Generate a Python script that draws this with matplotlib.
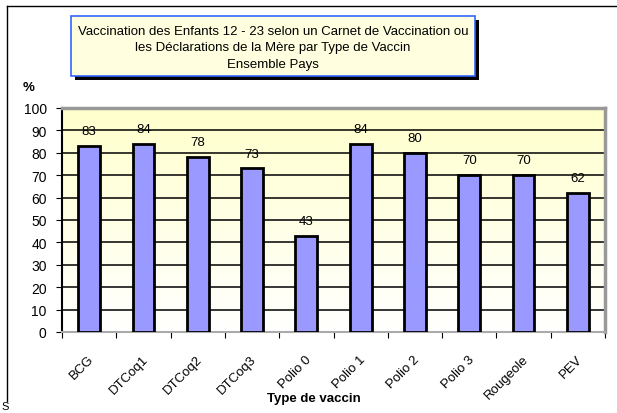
import matplotlib.pyplot as plt
import numpy as np
from matplotlib.patches import Rectangle
from matplotlib.lines import Line2D
from matplotlib.transforms import ScaledTranslation

vaccins = ['BCG', 'DTCoq1', 'DTCoq2', 'DTCoq3', 'Polio 0', 'Polio 1',
           'Polio 2', 'Polio 3', 'Rougeole', 'PEV']
pourcent = [83, 84, 78, 73, 43, 84, 80, 70, 70, 62]

titre = ('Vaccination des Enfants 12 - 23 selon un Carnet de Vaccination ou\n'
         'les Déclarations de la Mère par Type de Vaccin\nEnsemble Pays')

plt.rcParams['font.family'] = ['Liberation Sans', 'DejaVu Sans']

W, H = 617, 414
fig = plt.figure(figsize=(W / 100, H / 100), dpi=100)


def fx(px):
    return px / W


def fy(py):
    return 1 - py / H


# outer frame (cut off on right and bottom)
fig.add_artist(Line2D([fx(7), 1], [fy(7), fy(7)], color='black', lw=1))
fig.add_artist(Line2D([fx(7), fx(7)], [fy(7), fy(402)], color='black', lw=1))

ax = fig.add_axes([fx(62), fy(333), fx(605) - fx(62), fy(109) - fy(333)])

x = np.arange(len(vaccins))
ax.set_xlim(-0.5, len(vaccins) - 0.5)
ax.set_ylim(0, 100)

# gradient background: pale yellow at top -> white at bottom
grad = np.linspace(0, 1, 256).reshape(-1, 1)
top = np.array([1.0, 1.0, 0.80])
bot = np.array([1.0, 1.0, 1.0])
img = bot + (top - bot) * grad[:, :, None] * np.ones((1, 1, 3))
ax.imshow(img, extent=[-0.5, len(vaccins) - 0.5, 0, 100], origin='lower',
          aspect='auto', zorder=0)

ax.set_yticks(range(0, 101, 10))
ax.grid(axis='y', color='black', lw=1.1, zorder=1)
ax.set_axisbelow(True)

ax.bar(x, pourcent, width=0.4, color='#9999FF', edgecolor='black',
       linewidth=2, zorder=3)

for i, v in enumerate(pourcent):
    ax.text(i, v + 4, str(v), ha='center', va='bottom', fontsize=9.5, zorder=4)

ax.set_xticks(np.arange(-0.5, len(vaccins), 1), minor=False)
ax.set_xticklabels([])
ax.set_xticks(x, minor=True)
ax.set_xticklabels(vaccins, minor=True, rotation=45, ha='right',
                   rotation_mode='anchor', fontsize=9.5)
ax.tick_params(axis='x', which='minor', length=0, pad=15)
ax.tick_params(axis='x', which='major', length=4, color='black', direction='out')
ax.tick_params(axis='y', labelsize=10, length=4, pad=7)
shift = ScaledTranslation(-0.015, 0, fig.dpi_scale_trans)
for lbl in ax.get_xticklabels(minor=True):
    lbl.set_transform(lbl.get_transform() + shift)

for s in ['top', 'right']:
    ax.spines[s].set_color('#999999')
    ax.spines[s].set_linewidth(2.5)
ax.spines['bottom'].set_color('#aaaaaa')
ax.spines['bottom'].set_linewidth(1.5)
ax.spines['left'].set_color('black')
ax.spines['left'].set_linewidth(1.5)

ax.set_xlabel('Type de vaccin', fontsize=9.5, fontweight='bold', va='center')
ax.xaxis.set_label_coords((314 - 62) / 543, -(399 - 333) / 224)

fig.text(fx(29), fy(88), '%', fontsize=9.5, fontweight='bold', ha='center', va='center')

# title box with shadow
bx0, by0, bx1, by1 = 71, 17, 475, 77
fig.add_artist(Rectangle((fx(bx0 + 4), fy(by1 + 4)), fx(bx1 - bx0), fy(by0) - fy(by1),
                         facecolor='black', edgecolor='none'))
fig.add_artist(Rectangle((fx(bx0), fy(by1)), fx(bx1 - bx0), fy(by0) - fy(by1),
                         facecolor='#FFFFE0', edgecolor='#3366FF', lw=1.2))
fig.text(fx((bx0 + bx1) / 2), fy((by0 + by1) / 2) - 0.003, titre, ha='center',
         va='center', fontsize=9.5, linespacing=1.5)

fig.text(fx(1), fy(407), 'S', fontsize=8, ha='left', va='center')

fig.savefig('out.png', dpi=100)
